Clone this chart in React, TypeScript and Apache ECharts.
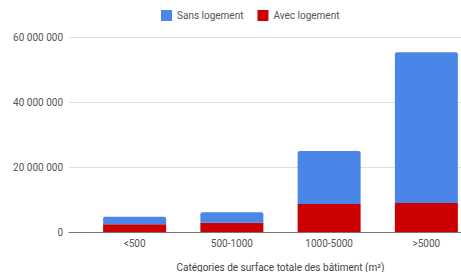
import React, { useEffect, useRef } from "react";
import * as echarts from "echarts";

const categories = ["<500", "500-1000", "1000-5000", ">5000"];
const sansLogement = [2330000, 3190000, 16300000, 46400000];
const avecLogement = [2370000, 2870000, 8600000, 8900000];
const yTicks = [0, 20000000, 40000000, 60000000];

const fmt = (v: number) =>
  String(Math.round(v)).replace(/\B(?=(\d{3})+(?!\d))/g, " ");

export default function App() {
  const ref = useRef<HTMLDivElement>(null);
  useEffect(() => {
    const chart = echarts.init(ref.current!, null, { renderer: "svg" });
    const font = "Roboto, Arial, sans-serif";
    chart.setOption({
      animation: false,
      textStyle: { fontFamily: font },
      legend: {
        top: 5,
        left: 156,
        itemWidth: 11,
        itemHeight: 11,
        itemGap: 14,
        icon: "rect",
        textStyle: { fontSize: 10, color: "#555", fontFamily: font },
        data: ["Sans logement", "Avec logement"],
      },
      grid: [
        { left: 86, right: -14, top: 37, bottom: 40, outerBoundsMode: "none", containLabel: false },
        { left: 69, right: 0, top: 37, bottom: 40, outerBoundsMode: "none", containLabel: false },
      ],
      xAxis: [
        {
          type: "category",
          gridIndex: 0,
          data: categories,
          axisLine: { show: false },
          axisTick: { show: false },
          axisLabel: { fontSize: 10, color: "#555", margin: 6, fontFamily: font },
          name: "Catégories de surface totale des bâtiment (m²)",
          nameLocation: "middle",
          nameGap: 30,
          nameTextStyle: { fontSize: 10, color: "#444", fontFamily: font },
        },
        {
          type: "value",
          gridIndex: 1,
          min: 0,
          max: 1,
          axisLine: { show: true, onZero: false, lineStyle: { color: "#777", width: 1 } },
          axisTick: { show: false },
          axisLabel: { show: false },
          splitLine: { show: false },
        },
      ],
      yAxis: [
        {
          type: "value",
          gridIndex: 0,
          min: yTicks[0],
          max: yTicks[yTicks.length - 1],
          interval: yTicks[1] - yTicks[0],
          show: false,
          splitLine: { show: false },
        },
        {
          type: "value",
          gridIndex: 1,
          min: yTicks[0],
          max: yTicks[yTicks.length - 1],
          interval: yTicks[1] - yTicks[0],
          axisLine: { show: false },
          axisTick: { show: false },
          axisLabel: {
            fontSize: 10,
            color: "#555",
            margin: 6,
            fontFamily: font,
            formatter: (v: number) => fmt(v),
          },
          splitLine: { show: true, lineStyle: { color: "#e0e0e0", width: 1 } },
        },
      ],
      series: [
        {
          name: "Avec logement",
          type: "bar",
          stack: "total",
          xAxisIndex: 0,
          yAxisIndex: 0,
          barWidth: 63,
          itemStyle: { color: "#cc0000" },
          data: avecLogement,
          z: 3,
        },
        {
          name: "Sans logement",
          type: "bar",
          stack: "total",
          xAxisIndex: 0,
          yAxisIndex: 0,
          barWidth: 63,
          itemStyle: { color: "#4a86e8", borderRadius: [2, 2, 0, 0] },
          data: sansLogement,
          z: 3,
        },
      ],
    });
    return () => chart.dispose();
  }, []);
  return <div ref={ref} style={{ width: 461, height: 272, position: "absolute", left: 0, top: 0 }} />;
}
